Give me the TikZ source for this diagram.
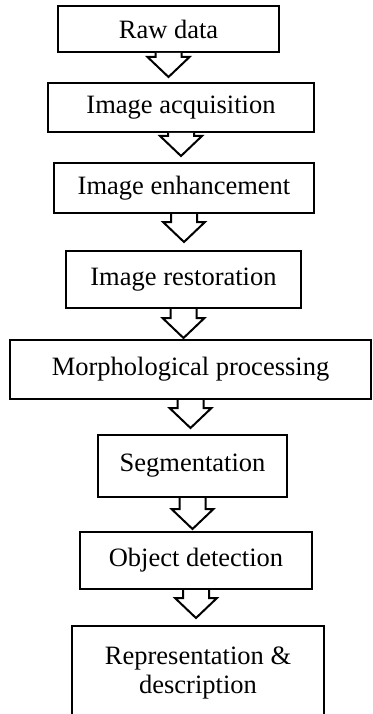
\documentclass[tikz,border=0pt]{standalone}
\usepackage{fontspec}
\setmainfont{Liberation Serif}
\usetikzlibrary{calc}
\tikzset{
  stage/.style={draw=black, line width=2pt, fill=white, rectangle, inner sep=0pt,
    font=\fontsize{26.5}{31}\selectfont, align=center, anchor=center},
  blk/.style={draw=black, line width=2pt, fill=white, line join=miter}
}
% #1 upper node, #2 lower node, #3 gap between tip and lower node
\newcommand\blockarr[3]{%
  \path (#1.south |- #2.north) ++(0,#3) coordinate (#1tip);
  \draw[blk] ($(#1.south)+(-13,0)$) |- ($(#1tip)+(-21,20)$) -- (#1tip)
    -- ($(#1tip)+(21,20)$) -| ($(#1.south)+(13,0)$);
}
\begin{document}
\begin{tikzpicture}[x=1pt,y=1pt]
\useasboundingbox (0,0) rectangle (372,-714);
\node[stage, minimum width=221, minimum height=46] (raw) at (168.5,-29) {Raw data};
\node[stage, minimum width=266, minimum height=49] (acq) at (181,-107.5) {Image acquisition};
\node[stage, minimum width=260, minimum height=50] (enh) at (184,-188) {Image enhancement};
\node[stage, minimum width=235, minimum height=57] (res) at (183.5,-279.5) {Image restoration};
\node[stage, minimum width=361, minimum height=59] (mor) at (190.5,-369.5) {Morphological processing};
\node[stage, minimum width=189, minimum height=62] (seg) at (192.5,-466) {Segmentation};
\node[stage, minimum width=232, minimum height=57] (obj) at (196,-560.5) {Object detection};
\node[stage, minimum width=252, minimum height=94] (rep) at (198,-673) {Representation \&\\[-2pt]description};
\blockarr{raw}{acq}{5}
\blockarr{acq}{enh}{6}
\blockarr{enh}{res}{8}
\blockarr{res}{mor}{1}
\blockarr{mor}{seg}{6}
\blockarr{seg}{obj}{2}
\blockarr{obj}{rep}{7}
\end{tikzpicture}
\end{document}
